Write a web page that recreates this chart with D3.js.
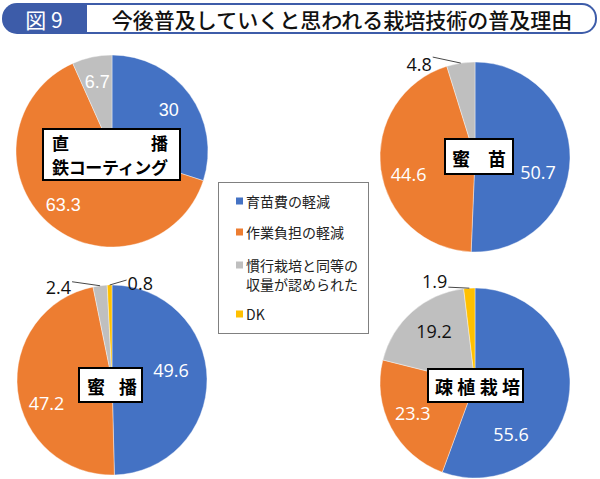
<!DOCTYPE html>
<html><head><meta charset="utf-8">
<script src="https://cdn.jsdelivr.net/npm/d3@7"></script>
<style>body{margin:0;background:#fff}svg{display:block}</style>
</head><body>
<svg id="c" width="600" height="479"></svg>
<script>
// ---- data ----
const categories = ["育苗費の軽減", "作業負担の軽減", "慣行栽培と同等の\n収量が認められた", "DK"];
const chartNames = ["直播\n鉄コーティング", "蜜苗", "蜜播", "疎植栽培"];
const valuesChokuha = [30, 63.3, 6.7, 0];
const valuesMitsubyo = [50.7, 44.6, 4.8, 0];
const valuesMitsuha = [49.6, 47.2, 2.4, 0.8];
const valuesSosyoku = [55.6, 23.3, 19.2, 1.9];
const seriesValues = [valuesChokuha, valuesMitsubyo, valuesMitsuha, valuesSosyoku];
const titleText = "今後普及していくと思われる栽培技術の普及理由";
const figLabel = "図 9";

// ---- style/layout ----
const colors = ["#4472C4", "#ED7D31", "#BFBFBF", "#FFC000"];
const JP = "'Noto Sans CJK JP','Noto Sans CJK SC',sans-serif";
const layout = [
  {cx:112, cy:151, r:96, numFont:"'Liberation Sans',Arial,sans-serif", bf:17,
   box:{x:43,y:129,w:137,h:51}, boxLines:[{t:["直","播"],y:142,x0:52,x1:168},{t:["鉄コーティング"],y:166,x0:52,x1:168}],
   lab:[{},{rf:0.76},{},null], outside:[]},
  {cx:475, cy:157, r:95, numFont:"'Open Sans',sans-serif", bf:18,
   box:{x:445,y:139,w:68,h:35}, boxLines:[{t:["蜜","苗"],y:158,x0:452,x1:506}],
   lab:[{ang:103,rf:0.68},{ang:256,rf:0.72},null,null], outside:[{i:2, tx:-28, ty:-6, dy:7, side:"end"}]},
  {cx:112, cy:380, r:95, numFont:"'Open Sans',sans-serif", bf:18,
   box:{x:79,y:368,w:63,h:34}, boxLines:[{t:["蜜","播"],y:386,x0:87,x1:137}],
   lab:[{ang:80,rf:0.63},{ang:251,rf:0.73},null,null], outside:[{i:2, tx:-28, ty:-4, dy:5, side:"end"},{i:3, tx:17, ty:-5, dy:3, side:"start"}]},
  {cx:475, cy:383, r:95, numFont:"'Open Sans',sans-serif", bf:18,
   box:{x:428,y:369,w:95,h:33}, boxLines:[{t:["疎植栽培"],y:386,x0:435,x1:520}],
   lab:[{ang:145,rf:0.66},{ang:244,rf:0.73},{ang:322,rf:0.70,dark:true},null], outside:[{i:3, tx:-21, ty:-1, dy:-6, side:"end"}]}
];

const svg = d3.select("#c");

// ---- title ----
const tg = svg.append("g");
tg.append("rect").attr("x",2).attr("y",3).attr("width",595).attr("height",31).attr("rx",15).attr("fill","#3d5ca9");
const ix0=87, ix1=595, iy0=5, iy1=32, rr=13;
tg.append("path").attr("fill","#fff")
  .attr("d",`M${ix0},${iy0} H${ix1-rr} A${rr},${rr} 0 0 1 ${ix1},${iy0+rr} V${iy1-rr} A${rr},${rr} 0 0 1 ${ix1-rr},${iy1} H${ix0} Z`);
tg.append("text").attr("x",44).attr("y",19).attr("text-anchor","middle").attr("dominant-baseline","central")
  .attr("fill","#fff").attr("font-family",JP).attr("font-size",21).text(figLabel);
tg.append("text").attr("x",342).attr("y",19).attr("text-anchor","middle").attr("dominant-baseline","central")
  .attr("fill","#111").attr("font-family",JP).attr("font-weight",500).attr("font-size",21).text(titleText);

// ---- pies ----
const pie = d3.pie().sort(null).value(d=>d);
const rad = a => a*Math.PI/180;
seriesValues.forEach((vals, ci) => {
  const L = layout[ci];
  const g = svg.append("g").attr("transform",`translate(${L.cx},${L.cy})`);
  const arcs = pie(vals);
  const arc = d3.arc().innerRadius(0).outerRadius(L.r);
  g.selectAll("path").data(arcs.filter(d=>d.value>0)).join("path")
    .attr("d",arc).attr("fill",d=>colors[d.index]).attr("stroke","#fff").attr("stroke-width",0.4);
  // inside labels
  arcs.forEach((d,i)=>{
    const o = L.lab[i];
    if (!o || d.value<=0) return;
    const mid = (d.startAngle+d.endAngle)/2;
    const a = o.ang!==undefined ? rad(o.ang) : mid;
    const rf = o.rf || 0.73;
    g.append("text").attr("x",Math.sin(a)*L.r*rf).attr("y",-Math.cos(a)*L.r*rf)
      .attr("text-anchor","middle").attr("dominant-baseline","central")
      .attr("font-family",L.numFont).attr("font-size",18)
      .attr("fill",o.dark?"#111":"#fff").text(d3.format("")(vals[i]));
  });
  // outside labels with leader lines
  L.outside.forEach(o=>{
    const d = arcs[o.i];
    const mid = (d.startAngle+d.endAngle)/2;
    const ex = Math.sin(mid)*L.r, ey = -Math.cos(mid)*L.r;
    const lx = ex+o.tx, ly = ey+o.ty;
    g.append("path").attr("fill","none").attr("stroke","#333").attr("stroke-width",0.9)
      .attr("d",`M${ex},${ey} L${lx},${ly}`);
    g.append("text").attr("x",o.side==="end"? lx-1 : lx+1).attr("y",ly+o.dy)
      .attr("text-anchor",o.side).attr("dominant-baseline","central")
      .attr("font-family",L.numFont).attr("font-size",18).attr("fill","#111").text(vals[o.i]);
  });
  // name box
  svg.append("rect").attr("x",L.box.x).attr("y",L.box.y).attr("width",L.box.w).attr("height",L.box.h)
    .attr("fill","#fff").attr("stroke","#000").attr("stroke-width",2);
  L.boxLines.forEach(bl=>{
    if (bl.t.length===2) {
      svg.append("text").attr("x",bl.x0).attr("y",bl.y).attr("dominant-baseline","central")
        .attr("font-family",JP).attr("font-weight",700).attr("font-size",L.bf).attr("fill","#000").text(bl.t[0]);
      svg.append("text").attr("x",bl.x1).attr("y",bl.y).attr("text-anchor","end").attr("dominant-baseline","central")
        .attr("font-family",JP).attr("font-weight",700).attr("font-size",L.bf).attr("fill","#000").text(bl.t[1]);
    } else {
      svg.append("text").attr("x",bl.x0).attr("y",bl.y).attr("dominant-baseline","central")
        .attr("font-family",JP).attr("font-weight",700).attr("font-size",L.bf).attr("fill","#000")
        .attr("textLength",bl.x1-bl.x0).attr("lengthAdjust","spacing").text(bl.t[0]);
    }
  });
});

// ---- legend ----
const lg = svg.append("g");
lg.append("rect").attr("x",218.5).attr("y",182.5).attr("width",150).attr("height",151)
  .attr("fill","#fff").attr("stroke","#808080").attr("stroke-width",1);
const rowY = [201, 232, 265, 314];
categories.forEach((c,i)=>{
  lg.append("rect").attr("x",236).attr("y",rowY[i]-3.5).attr("width",7).attr("height",7).attr("fill",colors[i]);
  const lines = c.split("\n");
  lines.forEach((t,j)=>{
    lg.append("text").attr("x",246).attr("y",rowY[i]+j*19).attr("dominant-baseline","central")
      .attr("font-family",JP).attr("font-size",14).attr("fill","#222").text(t);
  });
});
</script>
</body></html>
